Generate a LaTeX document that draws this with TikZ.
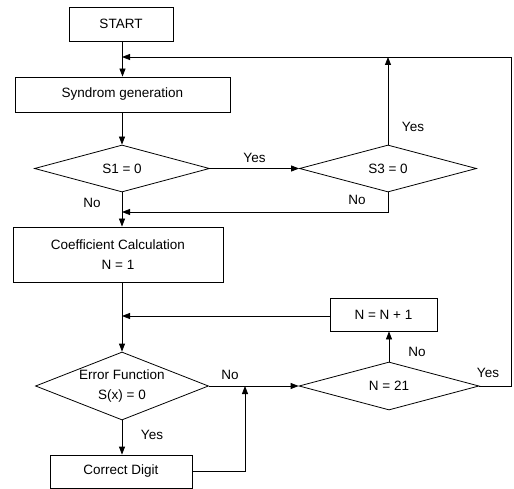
\documentclass[tikz,border=0pt]{standalone}
\usepackage{fontspec}
\setmainfont{Liberation Sans}
\usetikzlibrary{shapes.geometric,arrows.meta}
\begin{document}
\begin{tikzpicture}[x=1pt,y=-1pt,
  font=\fontsize{13.5}{20}\selectfont,
  box/.style={draw,line width=0.8pt,rectangle,inner sep=0pt,align=center},
  dia/.style={draw,line width=0.8pt,diamond,inner sep=0pt,align=center},
  conn/.style={line width=0.8pt},
  arr/.style={conn,-{Triangle[length=8pt,width=6pt]}},
  lbl/.style={inner sep=0pt}]
\fill[white] (0,0) rectangle (514,489);
\useasboundingbox (0,0) rectangle (514,489);

% nodes
\node[box,minimum width=104pt,minimum height=34pt] (start) at (121,24) {START};
\node[box,minimum width=215pt,minimum height=35pt] (syn) at (122.5,94.5) {Syndrom generation};
\node[dia,aspect=3.72,minimum width=175pt,minimum height=47pt] (s1) at (122,168.5) {S1 = 0};
\node[dia,aspect=3.77,minimum width=177pt,minimum height=47pt] (s3) at (388,168.5) {S3 = 0};
\node[box,minimum width=210pt,minimum height=55pt] (coef) at (118,254.5) {Coefficient Calculation\\N = 1};
\node[box,minimum width=107pt,minimum height=33pt] (nn) at (383.5,314.5) {N = N + 1};
\node[dia,aspect=2.54,minimum width=173pt,minimum height=68pt] (err) at (122,386) {Error Function\\S(x) = 0};
\node[dia,aspect=3.75,minimum width=180pt,minimum height=48pt] (n21) at (389,386) {N = 21};
\node[box,minimum width=142pt,minimum height=33pt] (cd) at (121,471.5) {Correct Digit};

% helper coordinates
\coordinate (m1) at (122,57);
\coordinate (m2) at (122,212);
\coordinate (m3) at (122,316);
\coordinate (rx) at (511,57);
\coordinate (jn) at (245,386);

% connectors
\draw[arr] (start.south -| syn.north) -- (syn.north);
\draw[arr] (syn.south -| s1.north) -- (s1.north);
\draw[arr] (s1.east) -- node[lbl,above=5pt] {Yes} (s3.west);
\draw[arr] (s3.north) -- (s3.north |- m1);
\draw[arr] (s3.south) -- (s3.south |- m2) -- (m2);
\draw[arr] (s1.south) -- (s1.south |- coef.north);
\draw[arr] (coef.south -| err.north) -- (err.north);
\draw[arr] (nn.west |- m3) -- (m3);
\draw[arr] (err.east) -- (n21.west);
\draw[arr] (err.south) -- (err.south |- cd.north);
\draw[arr] (cd.east) -| (jn);
\draw[arr] (n21.north) -- (n21.north |- nn.south);
\draw[arr] (n21.east) -- (n21.east -| rx) -- (rx) -- (m1);

% labels
\node[lbl] (ly1) at (413,127) {Yes};
\node[lbl] (ln1) at (357,200) {No};
\node[lbl] (ln2) at (92,203) {No};
\node[lbl] (ln3) at (230,375) {No};
\node[lbl] (ly2) at (152,435) {Yes};
\node[lbl] (ln4) at (417,352) {No};
\node[lbl] (ly3) at (488,373) {Yes};
\end{tikzpicture}
\end{document}
